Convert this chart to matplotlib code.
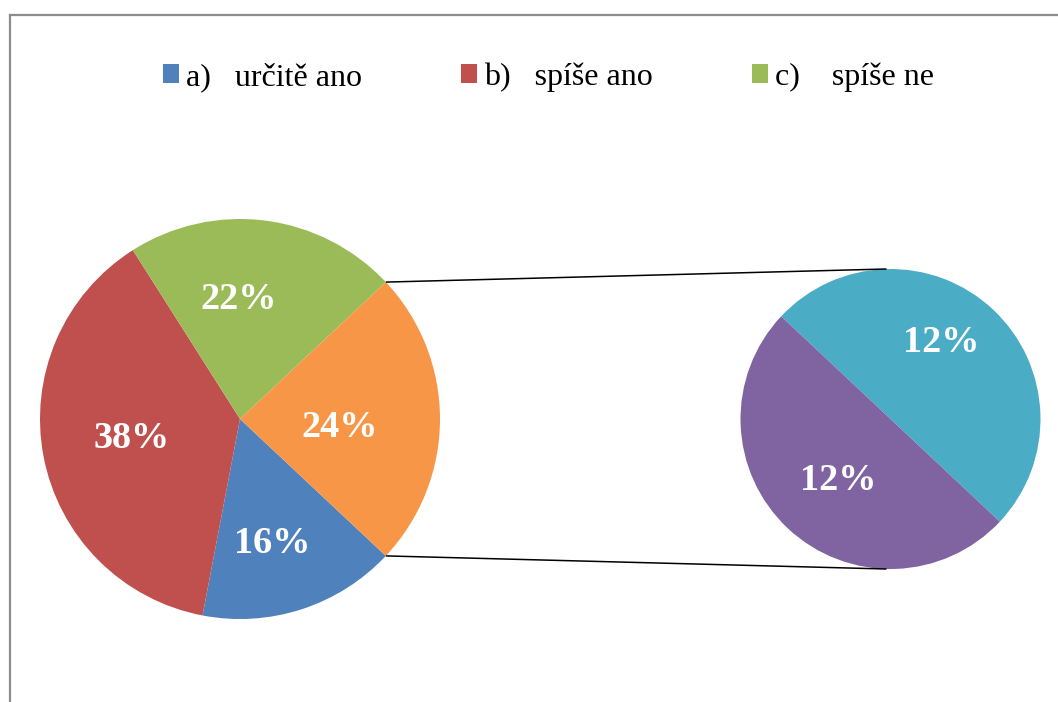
# coding:UTF-8
import numpy as np
import matplotlib
matplotlib.use('Agg')
import matplotlib.pyplot as plt
from matplotlib.lines import Line2D

plt.rcParams['font.family'] = ['Liberation Serif', 'DejaVu Serif']

# data
legendLabels = ['a)   určitě ano', 'b)   spíše ano', 'c)    spíše ne']
mainValues = [16, 38, 22]       # a, b, c
subValues = [12, 12]            # zbytek rozpadnuty do druheho kolace
mainColors = ['#4F81BD', '#C0504D', '#9BBB59', '#F79646']
subColors = ['#4BACC6', '#8064A2']

W, H = 1058, 702
fig = plt.figure(figsize=(W / 100.0, H / 100.0), dpi=100)
ax = fig.add_axes([0, 0, 1, 1])

otherValue = sum(subValues)
allMain = mainValues + [otherValue]
total = float(sum(allMain))
half = otherValue / total * 360 / 2.0

c1 = (240.0, H - 419.0)
r1 = 200.0
c2 = (890.5, H - 419.0)
r2 = 150.0

wedges1, _ = ax.pie(allMain, colors=mainColors, startangle=-half, counterclock=False,
                    center=c1, radius=r1, frame=True, wedgeprops=dict(linewidth=0))
wedges2, _ = ax.pie(subValues, colors=subColors, startangle=-half, counterclock=True,
                    center=c2, radius=r2, frame=True, wedgeprops=dict(linewidth=0))

# popisky
labelR1 = [0.63, 0.55, 0.615, 0.5]
labelShift1 = [-3, -2, 8, -3]
for w, v, rf, sh in zip(wedges1, allMain, labelR1, labelShift1):
    ang = np.deg2rad((w.theta1 + w.theta2) / 2.0 + sh)
    ax.text(c1[0] + rf * r1 * np.cos(ang), c1[1] + rf * r1 * np.sin(ang) - 3, '%d%%' % v,
            color='white', fontsize=27.5, fontweight='bold', ha='center', va='center')
labelR2 = [0.63, 0.52]
labelShift2 = [11, 1.6]
for w, v, rf, sh in zip(wedges2, subValues, labelR2, labelShift2):
    ang = np.deg2rad((w.theta1 + w.theta2) / 2.0 + sh)
    ax.text(c2[0] + rf * r2 * np.cos(ang), c2[1] + rf * r2 * np.sin(ang) - 3, '%d%%' % v,
            color='white', fontsize=27.5, fontweight='bold', ha='center', va='center')

# spojovaci cary
for sgn in [1, -1]:
    a = np.deg2rad(sgn * half)
    ax.plot([c1[0] + r1 * np.cos(a), c2[0] - 4], [c1[1] + r1 * np.sin(a), c2[1] + sgn * r2],
            color='black', linewidth=1.1, solid_capstyle='butt')

ax.set_xlim(0, W)
ax.set_ylim(0, H)
ax.set_aspect('equal')
ax.axis('off')

# ramecek grafu
fig.add_artist(Line2D([10.0 / W, 10.0 / W], [0, 1 - 15.0 / H], color='#8c8c8c', linewidth=1.6,
                      transform=fig.transFigure))
fig.add_artist(Line2D([10.0 / W, 1], [1 - 15.0 / H, 1 - 15.0 / H], color='#8c8c8c', linewidth=1.6,
                      transform=fig.transFigure))

fig.legend(wedges1[:3], legendLabels, loc='center left', bbox_to_anchor=(163.0 / W, 1 - 77.0 / H),
           ncol=3, frameon=False, fontsize=23, handlelength=0.5, handleheight=0.5,
           handletextpad=0.22, columnspacing=3.1, borderpad=0, borderaxespad=0)

fig.savefig('out.png', dpi=100)
